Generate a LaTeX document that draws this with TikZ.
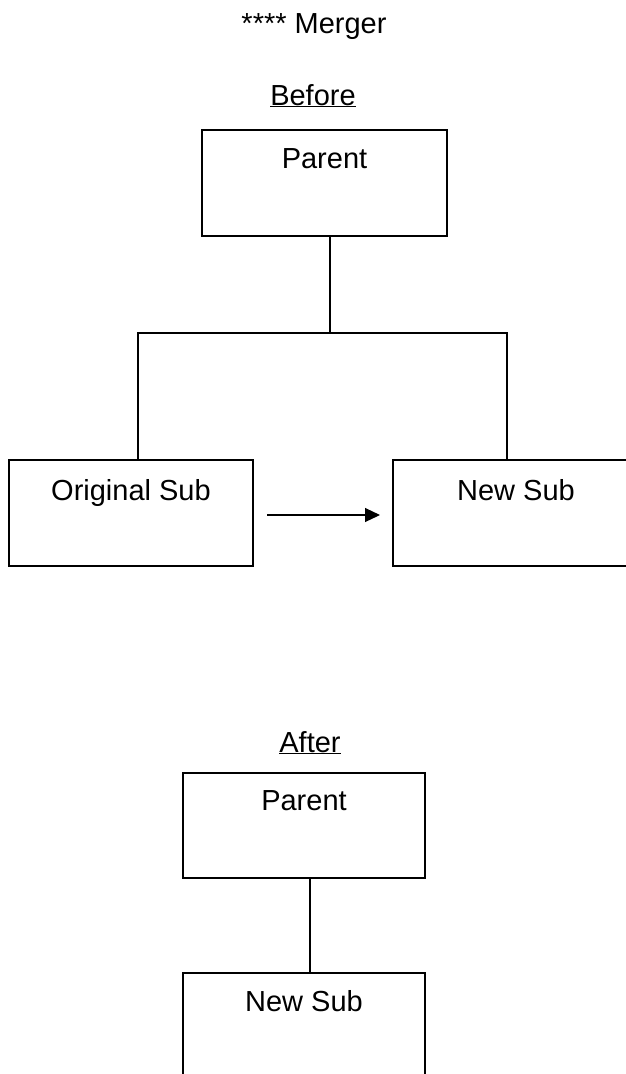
\documentclass[tikz,border=0pt]{standalone}
\usepackage{fontspec}
\setmainfont{Liberation Sans}
\usetikzlibrary{arrows.meta}
\begin{document}
\begin{tikzpicture}[x=1pt,y=-1pt,
  box/.style={draw=black,line width=1.1pt,rectangle,inner sep=0pt},
  lbl/.style={inner sep=0pt,anchor=base,font=\fontsize{29}{33}\selectfont},
  conn/.style={draw=black,line width=1.1pt},
  arr/.style={conn,-{Triangle[length=15pt,width=14pt]}}]
\useasboundingbox (0,0) rectangle (626,1074);
% titles
\node[lbl] (title) at (314,33) {**** Merger};
\node[lbl] (before) at (313,105) {\underline{Before}};
\node[lbl] (after) at (310,752) {\underline{After}};
% Before boxes
\node[box,minimum width=245pt,minimum height=106pt] (p1) at (324.5,183) {};
\node[box,minimum width=244pt,minimum height=106pt] (os) at (131,513) {};
\node[box,minimum width=246pt,minimum height=106pt] (ns) at (516,513) {};
\node[lbl] (p1t) at ([yshift=-39pt]p1.north) {Parent};
\node[lbl] (ost) at ([yshift=-41pt]os.north) {Original Sub};
\node[lbl] (nst) at ([yshift=-41pt]ns.north) {New Sub};
% connectors
\coordinate (j) at (330,333);
\draw[conn] (p1.south -| j) -- (j);
\draw[conn] (os.north -| 138,0) |- (j) -| (ns.north -| 507,0);
\coordinate (a1) at (267,515);
\coordinate (a2) at (380,515);
\draw[arr] (a1) -- (a2);
% After boxes
\node[box,minimum width=242pt,minimum height=105pt] (p2) at (304,825.5) {};
\node[box,minimum width=242pt,minimum height=105pt] (ns2) at (304,1025.5) {};
\node[lbl] (p2t) at ([yshift=-38pt]p2.north) {Parent};
\node[lbl] (ns2t) at ([yshift=-39pt]ns2.north) {New Sub};
\draw[conn] (p2.south -| 310,0) -- (ns2.north -| 310,0);
\end{tikzpicture}
\end{document}
